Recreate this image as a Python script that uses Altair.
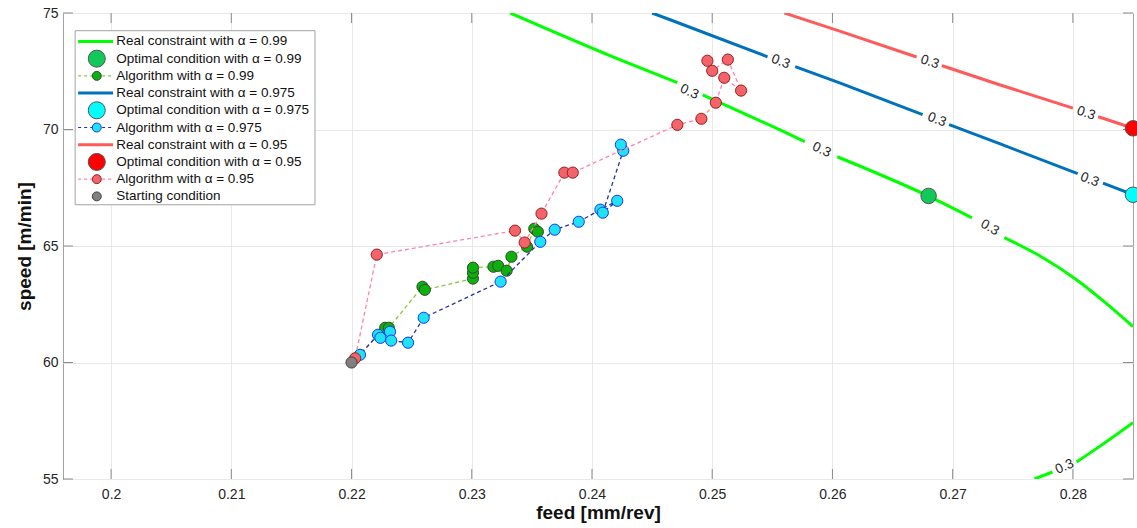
import altair as alt
import pandas as pd

# ---------------------------------------------------------------- axes
FEED_RANGE = [0.196, 0.285]
SPEED_RANGE = [55, 75]
feed_ticks = [0.20, 0.21, 0.22, 0.23, 0.24, 0.25, 0.26, 0.27, 0.28]
speed_ticks = [55, 60, 65, 70, 75]

# ------------------------------------------- real constraint contours (level 0.3)
# segment ids break each contour where its inline "0.3" label sits
green_curve_feed = [0.2332, 0.2423, 0.2471, 0.2492, 0.2556, 0.2577, 0.2604, 0.2679, 0.2716,
                    0.2743, 0.2772, 0.2803, 0.2826, 0.2850, 0.2768, 0.2783, 0.2803, 0.2822, 0.2850]
green_curve_speed = [75.0, 73.0, 72.01, 71.49, 69.99, 69.48, 68.83, 67.16, 66.21,
                     65.36, 64.59, 63.55, 62.61, 61.54, 55.0, 55.3, 55.73, 56.39, 57.42]
green_curve_seg = [0, 0, 0, 1, 1, 1, 2, 2, 2, 3, 3, 3, 3, 3, 4, 4, 5, 5, 5]

blue_curve_feed = [0.2450, 0.2465, 0.2546, 0.2569, 0.2606, 0.2675, 0.2697, 0.2739, 0.2804, 0.2825, 0.2850]
blue_curve_speed = [75.0, 74.71, 73.12, 72.70, 72.0, 70.64, 70.21, 69.39, 68.11, 67.70, 67.21]
blue_curve_seg = [0, 0, 0, 1, 1, 1, 2, 2, 2, 3, 3]

red_curve_feed = [0.2560, 0.2606, 0.2670, 0.2691, 0.2739, 0.2800, 0.2821, 0.2845, 0.2850]
red_curve_speed = [75.0, 74.22, 73.11, 72.74, 71.92, 70.92, 70.55, 70.14, 70.05]
red_curve_seg = [0, 0, 0, 1, 1, 1, 2, 2, 2]

# inline contour level labels
level_text = "0.3"
level_feed = [0.2481, 0.2591, 0.2731, 0.2793, 0.2557, 0.2687, 0.2814, 0.2681, 0.2811]
level_speed = [71.62, 69.13, 65.79, 55.53, 72.91, 70.42, 67.85, 72.90, 70.70]
level_angle = [24, 24, 30, 337, 21, 21, 21, 19, 19]

# ------------------------------------------------------ optimal conditions
opt_feed = {"green": 0.268, "blue": 0.285, "red": 0.285}
opt_speed = {"green": 67.15, "blue": 67.2, "red": 70.05}

# ------------------------------------------------------ algorithm iterates
start_feed = 0.22
start_speed = 60.0

green_alg_feed = [0.2228, 0.2231, 0.2259, 0.2261, 0.2301, 0.2301, 0.2301, 0.2318, 0.2322,
                  0.2329, 0.2333, 0.2346, 0.2352, 0.2355]
green_alg_speed = [61.49, 61.49, 63.25, 63.12, 63.60, 63.85, 64.07, 64.11, 64.15,
                   63.94, 64.54, 64.97, 65.74, 65.61]

blue_alg_feed = [0.2207, 0.2222, 0.2224, 0.2232, 0.2233, 0.2247, 0.2260, 0.2324, 0.2357,
                 0.2369, 0.2389, 0.2407, 0.2421, 0.2409, 0.2426, 0.2424]
blue_alg_speed = [60.33, 61.19, 61.06, 61.32, 60.94, 60.85, 61.92, 63.47, 65.18,
                  65.70, 66.04, 66.56, 66.94, 66.43, 69.09, 69.35]

red_alg_feed = [0.2203, 0.2221, 0.2336, 0.2344, 0.2358, 0.2377, 0.2384, 0.2471, 0.2491,
                0.2503, 0.2510, 0.2524, 0.2513, 0.2500, 0.2496]
red_alg_speed = [60.18, 64.63, 65.66, 65.15, 66.39, 68.15, 68.15, 70.20, 70.46,
                 71.15, 72.22, 71.67, 73.0, 72.52, 72.95]

legend_labels = [
    "Real constraint with α = 0.99",
    "Optimal condition with α = 0.99",
    "Algorithm with α = 0.99",
    "Real constraint with α = 0.975",
    "Optimal condition with α = 0.975",
    "Algorithm with α = 0.975",
    "Real constraint with α = 0.95",
    "Optimal condition with α = 0.95",
    "Algorithm with α = 0.95",
    "Starting condition",
]

# ---------------------------------------------------------------- styling
FONT = "Liberation Sans"
INK = "#262626"
STYLE = {
    "green": dict(curve="#00FF00", opt="#12C85A", path="#8DC640", fill="#0DB00D", edge="#2F4A2F"),
    "blue": dict(curve="#0072BD", opt="#00FFFF", path="#27339A", fill="#1FE3F2", edge="#1533FF"),
    "red": dict(curve="#FF5A5A", opt="#FF0000", path="#FF84A6", fill="#F2636A", edge="#9C1C1C"),
}
START_FILL, START_EDGE = "#808080", "#404040"
ALG_SIZE, OPT_SIZE = 125, 240

x_scale = alt.Scale(domain=FEED_RANGE, nice=False, zero=False)
y_scale = alt.Scale(domain=SPEED_RANGE, nice=False, zero=False)
x_axis = alt.Axis(
    title="feed [mm/rev]", values=feed_ticks, format=".2~f", grid=True, gridColor="#e8e8e8",
    domain=False, ticks=False, labelPadding=8, labelFont=FONT, labelFontSize=14, labelColor=INK,
    titleFont=FONT, titleFontSize=19, titleFontWeight="bold", titleColor="#111111",
    titleY=33, titleBaseline="middle",
)
y_axis = alt.Axis(
    title="speed [m/min]", values=speed_ticks, grid=True, gridColor="#e8e8e8",
    domain=False, ticks=False, labelPadding=5, labelFont=FONT, labelFontSize=14, labelColor=INK,
    titleFont=FONT, titleFontSize=19, titleFontWeight="bold", titleColor="#111111",
    titleX=-39, titleY=233, titleAngle=270, titleAlign="center", titleBaseline="middle",
)


def X(field="feed"):
    return alt.X(f"{field}:Q", scale=x_scale, axis=x_axis)


def Y(field="speed"):
    return alt.Y(f"{field}:Q", scale=y_scale, axis=y_axis)


layers = []

# inward box ticks on all four sides
tick_dy = 10 / 466 * (SPEED_RANGE[1] - SPEED_RANGE[0])
tick_dx = 10 / 1070 * (FEED_RANGE[1] - FEED_RANGE[0])
xt = pd.DataFrame({
    "feed": feed_ticks * 2,
    "speed": [SPEED_RANGE[0]] * len(feed_ticks) + [SPEED_RANGE[1]] * len(feed_ticks),
    "speed2": [SPEED_RANGE[0] + tick_dy] * len(feed_ticks) + [SPEED_RANGE[1] - tick_dy] * len(feed_ticks),
})
yt = pd.DataFrame({
    "speed": speed_ticks * 2,
    "feed": [FEED_RANGE[0]] * len(speed_ticks) + [FEED_RANGE[1]] * len(speed_ticks),
    "feed2": [FEED_RANGE[0] + tick_dx] * len(speed_ticks) + [FEED_RANGE[1] - tick_dx] * len(speed_ticks),
})
layers.append(alt.Chart(xt).mark_rule(color="#8a8a8a", strokeWidth=1).encode(x=X(), y=Y(), y2="speed2:Q"))
layers.append(alt.Chart(yt).mark_rule(color="#8a8a8a", strokeWidth=1).encode(x=X(), x2="feed2:Q", y=Y()))


def curve_layer(feed, speed, seg, color):
    df = pd.DataFrame({"feed": feed, "speed": speed, "seg": seg, "order": list(range(len(feed)))})
    return alt.Chart(df).mark_line(color=color, strokeWidth=3, clip=True, interpolate="monotone").encode(
        x=X(), y=Y(), detail="seg:N", order="order:Q")


def path_layers(name, feed, speed):
    st = STYLE[name]
    line_df = pd.DataFrame({"feed": [start_feed] + feed, "speed": [start_speed] + speed,
                            "order": list(range(len(feed) + 1))})
    pts_df = pd.DataFrame({"feed": feed, "speed": speed})
    line = alt.Chart(line_df).mark_line(color=st["path"], strokeWidth=1.3, strokeDash=[4, 3]).encode(
        x=X(), y=Y(), order="order:Q")
    pts = alt.Chart(pts_df).mark_circle(size=ALG_SIZE, fill=st["fill"], stroke=st["edge"],
                                        strokeWidth=1, opacity=1).encode(x=X(), y=Y())
    return [line, pts]


def opt_layer(name):
    df = pd.DataFrame({"feed": [opt_feed[name]], "speed": [opt_speed[name]]})
    return alt.Chart(df).mark_circle(size=OPT_SIZE, fill=STYLE[name]["opt"], stroke="#555555",
                                     strokeWidth=1, opacity=1).encode(x=X(), y=Y())


layers.append(curve_layer(green_curve_feed, green_curve_speed, green_curve_seg, STYLE["green"]["curve"]))
layers.append(opt_layer("green"))
layers += path_layers("green", green_alg_feed, green_alg_speed)
layers.append(curve_layer(blue_curve_feed, blue_curve_speed, blue_curve_seg, STYLE["blue"]["curve"]))
layers.append(opt_layer("blue"))
layers += path_layers("blue", blue_alg_feed, blue_alg_speed)
layers.append(curve_layer(red_curve_feed, red_curve_speed, red_curve_seg, STYLE["red"]["curve"]))
layers.append(opt_layer("red"))
layers += path_layers("red", red_alg_feed, red_alg_speed)

start_df = pd.DataFrame({"feed": [start_feed], "speed": [start_speed]})
layers.append(alt.Chart(start_df).mark_circle(size=ALG_SIZE, fill=START_FILL, stroke=START_EDGE,
                                              strokeWidth=1, opacity=1).encode(x=X(), y=Y()))

# contour level labels
lv = pd.DataFrame({"feed": level_feed, "speed": level_speed, "angle": level_angle, "txt": level_text})
layers.append(alt.Chart(lv).mark_text(font=FONT, fontSize=13.5, color=INK, baseline="middle", align="center").encode(
    x=X(), y=Y(), text="txt:N", angle=alt.Angle("angle:Q", scale=None)))

# ---------------------------------------------------------------- legend
box = pd.DataFrame({"feed": [0.19701], "feed2": [0.21696], "speed": [74.24], "speed2": [66.77]})
layers.append(alt.Chart(box).mark_rect(fill="white", stroke="#a3a3a3", strokeWidth=1).encode(
    x=X(), x2="feed2:Q", y=Y(), y2="speed2:Q"))

row_speed = [73.78 - 0.739 * i for i in range(len(legend_labels))]
line_x1, line_x2, mark_x, text_x = 0.19726, 0.20017, 0.19881, 0.20042
series = ["green", "blue", "red"]

solid_rows, dash_rows, mark_rows = [], [], []
for k, name in enumerate(series):
    st = STYLE[name]
    r = 3 * k
    solid_rows.append({"feed": line_x1, "feed2": line_x2, "speed": row_speed[r], "c": st["curve"]})
    mark_rows.append({"feed": mark_x, "speed": row_speed[r + 1], "f": st["opt"], "s": "#555555", "z": 290})
    dash_rows.append({"feed": line_x1, "feed2": line_x2, "speed": row_speed[r + 2], "c": st["path"]})
    mark_rows.append({"feed": mark_x, "speed": row_speed[r + 2], "f": st["fill"], "s": st["edge"], "z": 80})
mark_rows.append({"feed": mark_x, "speed": row_speed[9], "f": START_FILL, "s": START_EDGE, "z": 80})

layers.append(alt.Chart(pd.DataFrame(solid_rows)).mark_rule(strokeWidth=3).encode(
    x=X(), x2="feed2:Q", y=Y(), color=alt.Color("c:N", scale=None)))
layers.append(alt.Chart(pd.DataFrame(dash_rows)).mark_rule(strokeWidth=1.2, strokeDash=[3, 3]).encode(
    x=X(), x2="feed2:Q", y=Y(), color=alt.Color("c:N", scale=None)))
layers.append(alt.Chart(pd.DataFrame(mark_rows)).mark_circle(opacity=1, strokeWidth=1).encode(
    x=X(), y=Y(), fill=alt.Fill("f:N", scale=None), stroke=alt.Stroke("s:N", scale=None),
    size=alt.Size("z:Q", scale=None)))

lt = pd.DataFrame({"feed": [text_x] * len(legend_labels), "speed": row_speed, "label": legend_labels})
layers.append(alt.Chart(lt).mark_text(font=FONT, fontSize=13.5, color="#111111", align="left",
                                      baseline="middle").encode(x=X(), y=Y(), text="label:N"))

chart = alt.layer(*layers).properties(
    width=1070, height=466,
    autosize=alt.AutoSizeParams(type="none"),
    padding={"left": 63, "top": 13, "right": 4, "bottom": 49},
    background="white",
).configure_view(stroke="#a3a3a3", strokeWidth=1)

chart.save("out.html", embed_options={"renderer": "svg", "actions": False})
